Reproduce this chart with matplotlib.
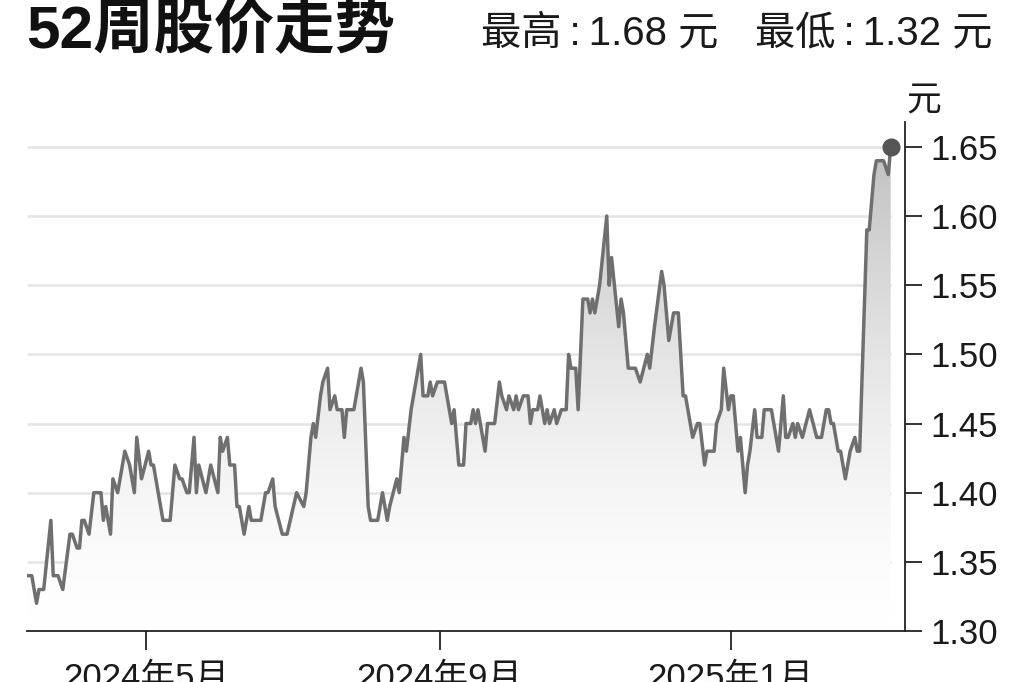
import numpy as np
import pandas as pd
import matplotlib
matplotlib.use('Agg')
import matplotlib.pyplot as plt
import matplotlib.dates as mdates
from matplotlib.colors import LinearSegmentedColormap

plt.rcParams['font.family'] = ['Liberation Sans', 'Noto Sans CJK SC', 'DejaVu Sans']

# --- data ---
START = '2024-03-12'
# days since START for each turning point of the line
days = [0, 2, 4, 5, 7, 10, 11, 13, 15, 18, 19, 21, 22, 23, 24, 26, 28, 31, 32, 33,
        35, 36, 38, 41, 43, 45, 46, 48, 51, 52, 53, 55, 57, 60, 62, 64, 65, 67, 68, 70,
        71, 72, 75, 77, 80, 81, 82, 84, 85, 87, 88, 89, 91, 93, 94, 98, 100, 101, 103, 104,
        107, 109, 113, 116, 117, 119, 120, 121, 123, 124, 126, 127, 129, 130, 132, 133, 134, 137, 139, 140,
        141, 143, 144, 147, 149, 151, 152, 155, 156, 158, 159, 161, 163, 165, 166, 168, 169, 170, 172, 175,
        178, 179, 181, 183, 184, 186, 187, 188, 189, 191, 192, 193, 196, 198, 199, 201, 202, 204, 205, 206,
        208, 210, 211, 212, 214, 215, 217, 218, 219, 221, 222, 224, 226, 227, 228, 230, 231, 233, 235, 236,
        237, 238, 240, 243, 244, 245, 248, 249, 250, 252, 255, 257, 260, 261, 263, 266, 267, 269, 271, 273,
        275, 276, 279, 281, 282, 284, 285, 288, 289, 291, 292, 294, 295, 296, 298, 299, 301, 302, 303, 305,
        306, 308, 309, 312, 315, 317, 318, 319, 321, 322, 323, 325, 328, 331, 333, 335, 336, 337, 338, 340,
        341, 343, 345, 347, 348, 349, 352, 353, 355, 356, 358, 359, 361, 362]
price = [1.34, 1.34, 1.32, 1.33, 1.33, 1.38, 1.34, 1.34, 1.33, 1.37, 1.37, 1.36, 1.36, 1.38, 1.38, 1.37, 1.40, 1.40, 1.38, 1.39,
         1.37, 1.41, 1.40, 1.43, 1.42, 1.40, 1.44, 1.41, 1.43, 1.42, 1.42, 1.40, 1.38, 1.38, 1.42, 1.41, 1.41, 1.40, 1.40, 1.44,
         1.40, 1.42, 1.40, 1.42, 1.40, 1.44, 1.43, 1.44, 1.42, 1.42, 1.39, 1.39, 1.37, 1.39, 1.38, 1.38, 1.40, 1.40, 1.41, 1.39,
         1.37, 1.37, 1.40, 1.39, 1.40, 1.44, 1.45, 1.44, 1.47, 1.48, 1.49, 1.46, 1.47, 1.46, 1.46, 1.44, 1.46, 1.46, 1.48, 1.49,
         1.48, 1.39, 1.38, 1.38, 1.40, 1.38, 1.39, 1.41, 1.40, 1.44, 1.43, 1.46, 1.48, 1.50, 1.47, 1.47, 1.48, 1.47, 1.48, 1.48,
         1.45, 1.46, 1.42, 1.42, 1.45, 1.45, 1.46, 1.45, 1.46, 1.44, 1.43, 1.45, 1.45, 1.48, 1.47, 1.46, 1.47, 1.46, 1.47, 1.46,
         1.47, 1.47, 1.45, 1.46, 1.46, 1.47, 1.45, 1.46, 1.45, 1.46, 1.45, 1.46, 1.46, 1.50, 1.49, 1.49, 1.46, 1.54, 1.54, 1.53,
         1.54, 1.53, 1.55, 1.60, 1.55, 1.57, 1.52, 1.54, 1.53, 1.49, 1.49, 1.48, 1.50, 1.49, 1.52, 1.56, 1.55, 1.51, 1.53, 1.53,
         1.47, 1.47, 1.44, 1.45, 1.45, 1.42, 1.43, 1.43, 1.45, 1.46, 1.49, 1.46, 1.47, 1.47, 1.43, 1.44, 1.40, 1.42, 1.43, 1.46,
         1.44, 1.44, 1.46, 1.46, 1.43, 1.47, 1.44, 1.44, 1.45, 1.44, 1.45, 1.44, 1.46, 1.44, 1.44, 1.46, 1.46, 1.45, 1.45, 1.43,
         1.43, 1.41, 1.43, 1.44, 1.43, 1.43, 1.59, 1.59, 1.63, 1.64, 1.64, 1.64, 1.63, 1.65]

yticks = [1.30, 1.35, 1.40, 1.45, 1.50, 1.55, 1.60, 1.65]
xtick_dates = ['2024-05-01', '2024-09-01', '2025-01-01']
xtick_labels = ['2024年5月', '2024年9月', '2025年1月']

title = '52周股价走势'
high_text = '最高\u2009:\u20091.68 元'
low_text = '最低\u2009:\u20091.32 元'
unit = '元'

# --- plot ---
dates = pd.Timestamp(START) + pd.to_timedelta(days, unit='D')
x = mdates.date2num(dates)
ymin, ymax = 1.30, 1.668

fig = plt.figure(figsize=(10.24, 6.82), dpi=100)
ax = fig.add_axes([27 / 1024, 1 - 631 / 682, 878 / 1024, 509 / 682])

# grid lines only under the data range
ax.hlines(yticks[1:], x[0], x[-1], color='#e4e4e4', lw=1.8, zorder=1)

# gradient fill under the line
poly = ax.fill_between(x, price, ymin, facecolor='none', edgecolor='none')
grad = np.linspace(0, 1, 256).reshape(-1, 1) ** 1.5
cmap = LinearSegmentedColormap.from_list('g', ['#ffffff', '#bcbcbc'])
im = ax.imshow(grad, extent=[x[0], x[-1], ymin, ymax], origin='lower',
               aspect='auto', cmap=cmap, zorder=1.5)
im.set_clip_path(poly.get_paths()[0], transform=ax.transData)

ax.plot(x, price, color='#6f6f6f', lw=2.5, zorder=3)
ax.plot(x[-1], price[-1], 'o', color='#555555', ms=12, zorder=4, clip_on=False)

ax.set_xlim(x[0], x[0] + 368)
ax.set_ylim(ymin, ymax)

for s in ['left', 'top']:
    ax.spines[s].set_visible(False)
for s in ['right', 'bottom']:
    ax.spines[s].set_color('#222222')
    ax.spines[s].set_linewidth(1.3)

ax.yaxis.tick_right()
ax.set_yticks(yticks)
ax.set_yticklabels([f'{v:.2f}' for v in yticks])
ax.tick_params(axis='y', length=12, width=1.3, pad=6, labelsize=25,
               color='#222222', labelcolor='#1a1a1a')

ax.set_xticks(mdates.date2num(pd.to_datetime(xtick_dates)))
ax.set_xticklabels(xtick_labels)
ax.tick_params(axis='x', length=14, width=1.3, pad=8, labelsize=25,
               color='#222222', labelcolor='#1a1a1a')

fig.text(26 / 1024, 1 - 31 / 682, title, fontsize=43.5, fontweight='bold',
         va='center', ha='left', color='#111111')
fig.text(481 / 1024, 1 - 33 / 682, high_text, fontsize=29, va='center', ha='left', color='#1a1a1a')
fig.text(755 / 1024, 1 - 33 / 682, low_text, fontsize=29, va='center', ha='left', color='#1a1a1a')
fig.text(924 / 1024, 1 - 101 / 682, unit, fontsize=25, va='center', ha='center', color='#1a1a1a')

fig.savefig('out.png', dpi=100)
